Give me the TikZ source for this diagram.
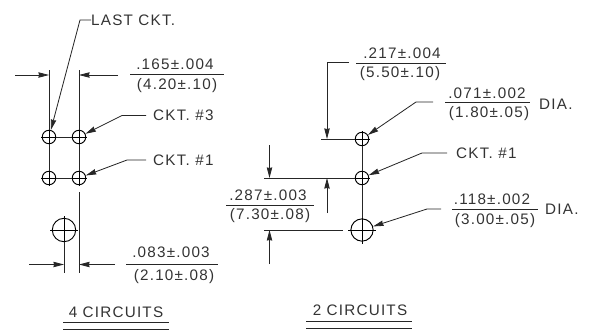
\documentclass[tikz,border=0pt]{standalone}
\usepackage{fontspec}
\setmainfont[LetterSpace=8]{Liberation Sans}
\usetikzlibrary{arrows.meta,calc,positioning}
\tikzset{
	dimtext/.style={font=\fontsize{13}{14}\selectfont, text=black!80, inner sep=0pt},
	dimline/.style={line width=0.7pt, draw=black!85},
	dimarrow/.style={dimline, -{Stealth[length=9pt,width=4.6pt,inset=0.5pt]}},
	hole/.style={circle, draw=black, line width=0.8pt, inner sep=0pt, minimum size=#1},
}
\newcommand{\crosshair}[3]{
	\draw [line width=0.6pt] ($(#1)+(-#2,0)$) -- ($(#1)+(#2,0)$);
	\draw [line width=0.6pt] ($(#1)+(0,-#3)$) -- ($(#1)+(0,#3)$);
}
\begin{document}
\begin{tikzpicture}[x=0.03cm,y=-0.03cm]
		\useasboundingbox (0,0) rectangle (593,335);
		% holes, 4 circuits
		\node [hole=11.5pt] (ckt4) at (49,137) {};
		\node [hole=11.5pt] (ckt3) at (79,137) {};
		\node [hole=11.5pt] (ckt2) at (49,178) {};
		\node [hole=11.5pt] (ckt1) at (79,178) {};
		\node [hole=20pt] (keyleft) at (64,230) {};
		% holes, 2 circuits
		\node [hole=11.5pt] (topright) at (362,139) {};
		\node [hole=11.5pt] (midright) at (362,178) {};
		\node [hole=19pt] (keyright) at (362,230) {};
		\crosshair{ckt4}{8}{8}
		\crosshair{ckt3}{8}{8}
		\crosshair{ckt2}{8}{8}
		\crosshair{ckt1}{8}{8}
		\crosshair{keyleft}{14}{14}
		\crosshair{topright}{8}{8}
		\crosshair{midright}{8}{8}
		\crosshair{keyright}{14}{14}
		% links between holes
		\draw [dimline] (ckt4) -- (ckt3);
		\draw [dimline] (ckt2) -- (ckt1);
		\draw [dimline] (ckt4) -- (ckt2);
		\draw [dimline] (ckt3) -- (ckt1);
		\draw [dimline] (topright) -- (midright);
		\draw [dimline] (midright) -- (keyright);
		% extension lines, 4 circuits
		\draw [dimline] (49,70) -- (ckt4);
		\draw [dimline] (79,70) -- (ckt3);
		\draw [dimline] (79,192) -- (79,273);
		\draw [dimline] (keyleft) -- (64,273);
		\draw [dimarrow] (15,75) -- (49,75);
		\draw [dimarrow] (118,75) -- (79,75);
		\draw [dimarrow] (29,264.5) -- (64,264.5);
		\draw [dimarrow] (115,264.5) -- (79,264.5);
		% extension lines, 2 circuits
		\draw [dimline] (321,139) -- (topright);
		\draw [dimline] (264,178) -- (midright);
		\draw [dimline] (264,230) -- (343,230);
		\draw [dimarrow] (349,62) -- (327,62) -- (327,139);
		\draw [dimarrow] (269.5,145) -- (269.5,178);
		\draw [dimarrow] (327,213) -- (327,178);
		\draw [dimarrow] (269.5,264) -- (269.5,230);
		% tolerance labels
		\node [dimtext] (a1) at (175,64.5) {.165±.004};
		\node [dimtext] (a2) at (177,85.5) {(4.20±.10)};
		\draw [dimline] (130,74) -- (224,74);
		\node [dimtext] (b1) at (171,252) {.083±.003};
		\node [dimtext] (b2) at (174,277) {(2.10±.08)};
		\draw [dimline] (126,264.5) -- (218,264.5);
		\node [dimtext] (c1) at (402,53) {.217±.004};
		\node [dimtext] (c2) at (400,73.5) {(5.50±.10)};
		\draw [dimline] (356,63) -- (446,63);
		\node [dimtext] (d1) at (487,93) {.071±.002};
		\node [dimtext] (d2) at (489,114) {(1.80±.05)};
		\draw [dimline] (445,102) -- (530,102);
		\node [dimtext, anchor=west] (dia1) at (539,104) {DIA.};
		\node [dimtext] (e1) at (268,195) {.287±.003};
		\node [dimtext] (e2) at (270,215.5) {(7.30±.08)};
		\draw [dimline] (226,205) -- (314,205);
		\node [dimtext] (f1) at (492,199) {.118±.002};
		\node [dimtext] (f2) at (495,220.5) {(3.00±.05)};
		\draw [dimline] (452,209) -- (538,209);
		\node [dimtext, anchor=west] (dia2) at (545,209) {DIA.};
		% leaders
		\node [dimtext, anchor=west] (lastlabel) at (91,20) {LAST CKT.};
		\node [dimtext, anchor=west] (ckt3label) at (153,115.5) {CKT. \#3};
		\node [dimtext, anchor=west] (ckt1label) at (153,160) {CKT. \#1};
		\node [dimtext, anchor=west] (ckt1rlabel) at (456,153) {CKT. \#1};
		\coordinate (d0) at (433,102);
		\coordinate (f0) at (441,209);
		\draw [dimarrow] (lastlabel.west) -- (80,20) -- (ckt4);
		\draw [dimarrow] (146,115.5) -- (122,115.5) -- (ckt3);
		\draw [dimarrow] (146,160) -- (127,160) -- (ckt1);
		\draw [dimarrow] (447,153) -- (422,153) -- (midright);
		\draw [dimarrow] (d0) -- (416,102) -- (topright);
		\draw [dimarrow] (f0) -- (427,209) -- (keyright);
		% view titles
		\node [dimtext] (title4) at (116,312) {4 CIRCUITS};
		\draw [dimline] (63,322) -- (169,322);
		\draw [dimline] (63,329) -- (169,329);
		\node [dimtext] (title2) at (360,310) {2 CIRCUITS};
		\draw [dimline] (306,321) -- (412,321);
		\draw [dimline] (306,328) -- (412,328);
	\end{tikzpicture}
\end{document}
